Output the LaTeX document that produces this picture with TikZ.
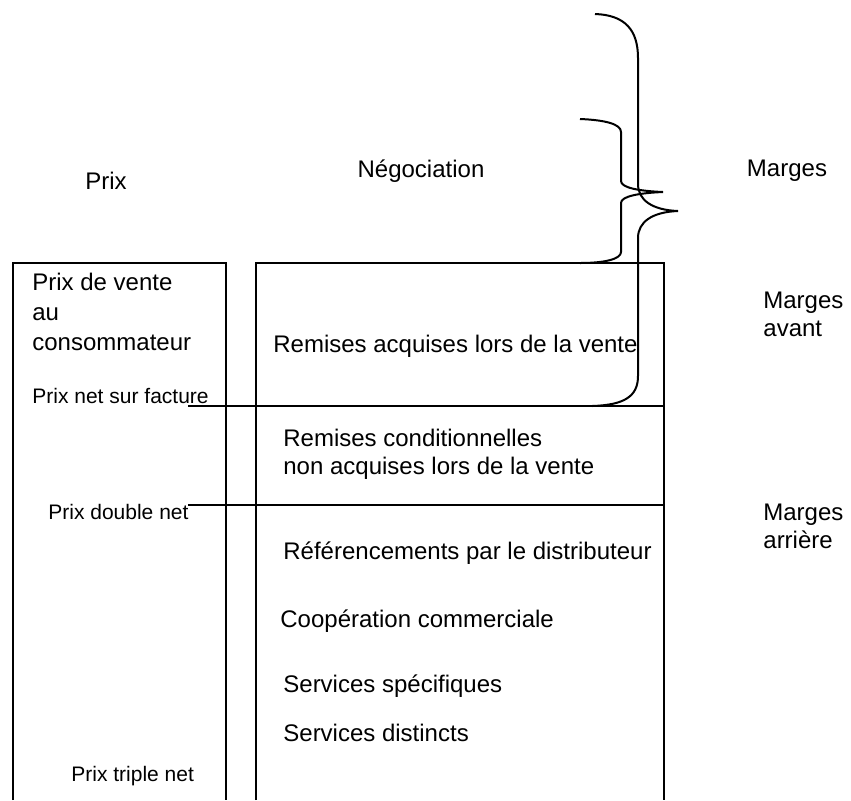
\documentclass[tikz,border=0pt]{standalone}
\usepackage{fontspec}
\setmainfont{Liberation Sans}
\usetikzlibrary{positioning}

\begin{document}
\begin{tikzpicture}[
    x=0.5pt, y=-0.5pt,
    % --- Textstile ---
    bigText/.style={font=\fontsize{12}{14}\selectfont, anchor=west, inner sep=0pt, align=left},
    smallText/.style={font=\fontsize{10.5}{12.5}\selectfont, anchor=west, inner sep=0pt},
    % --- Linienstile ---
    boxLine/.style={line width=0.6pt},
    braceLine/.style={line width=1pt}
]
    \useasboundingbox (0,0) rectangle (851,800);

    % ===========================
    % 1. KOPFZEILE
    % ===========================
    \node[bigText, anchor=center] (prix)   at (106,181) {Prix};
    \node[bigText, anchor=center] (nego)   at (421,171) {Négociation};
    \node[bigText, anchor=center] (marges) at (787,171) {Marges};

    % ===========================
    % 2. KASTEN (links: Preise, rechts: Verhandlung)
    % ===========================
    \draw[boxLine] (13,800) -- (13,263) -- (226,263) -- (226,800);
    \draw[boxLine] (256,800) -- (256,263) -- (664,263) -- (664,800);

    % Trennlinien
    \draw[boxLine] (188,406) -- (664,406);
    \draw[boxLine] (188,505) -- (664,505);

    % ===========================
    % 3. TEXTE LINKS
    % ===========================
    \node[bigText] (pvc)     at (32,312) {Prix de vente\\[1pt]au\\[1pt]consommateur};
    \node[smallText] (pnf)   at (32,396) {Prix net sur facture};
    \node[smallText] (pdn)   at (48,512) {Prix double net};
    \node[smallText] (ptn)   at (71,776) {Prix triple net};

    % ===========================
    % 4. TEXTE RECHTS
    % ===========================
    \node[bigText] (remAcq)  at (273,346) {Remises acquises lors de la vente};
    \node[bigText] (remCond) at (283,454) {Remises conditionnelles\\non acquises lors de la vente};
    \node[bigText] (refDist) at (283,553) {Référencements par le distributeur};
    \node[bigText] (coop)    at (280,621) {Coopération commerciale};
    \node[bigText] (servSp)  at (283,686) {Services spécifiques};
    \node[bigText] (servDi)  at (283,733) {Services distincts};

    \node[bigText] (mAvant)  at (763,314) {Marges\\avant};
    \node[bigText] (mArr)    at (763,526) {Marges\\arrière};

    % ===========================
    % 5. GESCHWEIFTE KLAMMERN
    % ===========================
    % grosse Klammer (bis Prix net sur facture)
    \draw[braceLine] (595,14) .. controls (625,15) and (638,30) .. (638,58)
        -- (638,184) .. controls (638,200) and (652,210) .. (678,211)
        .. controls (652,212) and (638,222) .. (638,238)
        -- (638,376) .. controls (638,396) and (625,405) .. (592,406);
    % kleine Klammer (bis Oberkante Kasten)
    \draw[braceLine] (580,119) .. controls (605,120) and (621,124) .. (621,132)
        -- (621,181) .. controls (621,188) and (640,191) .. (663,192)
        .. controls (640,193) and (621,196) .. (621,203)
        -- (621,252) .. controls (621,259) and (605,263) .. (580,263);

\end{tikzpicture}
\end{document}
